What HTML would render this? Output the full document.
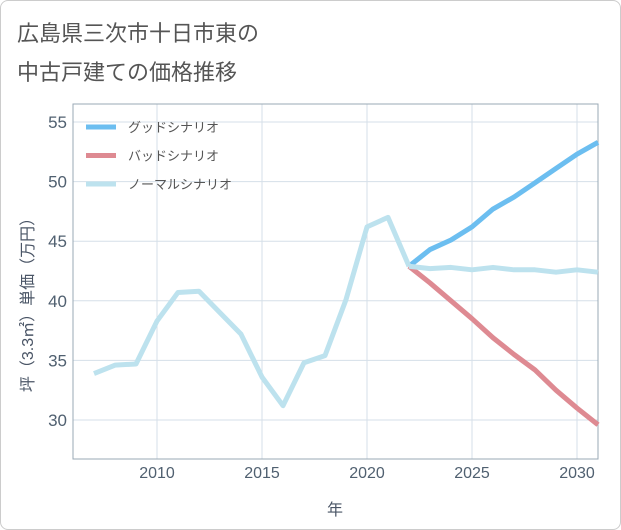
<!DOCTYPE html>
<html><head><meta charset="utf-8"><style>
body{margin:0;background:#fff;font-family:"Liberation Sans","Noto Sans CJK JP",sans-serif;}
#wrap{position:relative;width:619px;height:528px;border:1px solid #ccc;border-radius:8px;overflow:hidden;}
</style></head><body>
<div id="wrap">
<svg id="c" width="619" height="528" xmlns="http://www.w3.org/2000/svg">
<text x="16" y="40" font-size="22" fill="#555">広島県三次市十日市東の</text>
<text x="16" y="79" font-size="22" fill="#555">中古戸建ての価格推移</text>
<g id="grid"></g>
<g id="series"></g>
<g id="legend"></g>
<text x="334" y="514" font-size="16" fill="#4a5566" text-anchor="middle">年</text>
<text transform="translate(32,300) rotate(-90)" font-size="16" fill="#4a5566" text-anchor="middle">坪（3.3㎡）単価（万円）</text>
</svg>
</div>
<script>
const histYears=[2007,2008,2009,2010,2011,2012,2013,2014,2015,2016,2017,2018,2019,2020,2021,2022];
const histValues=[33.9,34.6,34.7,38.3,40.7,40.8,39.0,37.2,33.6,31.2,34.8,35.4,40.1,46.2,47.0,42.9];
const fcYears=[2022,2023,2024,2025,2026,2027,2028,2029,2030,2031];
const goodValues=[42.9,44.3,45.1,46.2,47.7,48.7,49.9,51.1,52.3,53.3];
const badValues=[42.9,41.5,40.0,38.5,36.9,35.5,34.2,32.5,31.0,29.6];
const normalValues=[42.9,42.7,42.8,42.6,42.8,42.6,42.6,42.4,42.6,42.4];
const xTicks=[2010,2015,2020,2025,2030];
const yTicks=[30,35,40,45,50,55];
const legendLabels=["グッドシナリオ","バッドシナリオ","ノーマルシナリオ"];
const L=72,R=597,T=103,B=458;
const x=v=>L+(v-2006)*(R-L)/25;
const y=v=>121+(55-v)*(419-121)/25;
const NS="http://www.w3.org/2000/svg";
function mk(tag,attrs,parent){const e=document.createElementNS(NS,tag);for(const k in attrs)e.setAttribute(k,attrs[k]);parent.appendChild(e);return e;}
const grid=document.getElementById('grid');
for(const t of xTicks){
 const l=mk('line',{x1:x(t),x2:x(t),y1:T,y2:B,stroke:'#d5dfe8','stroke-width':1},grid);
 
 
 const tx=mk('text',{x:x(t),y:B+19,'font-size':16,fill:'#506070','text-anchor':'middle'},grid);
 tx.textContent=t;
 
 
}
for(const t of yTicks){
 const l=mk('line',{x1:L,x2:R,y1:y(t),y2:y(t),stroke:'#d5dfe8','stroke-width':1},grid);
 
 
 const tx=mk('text',{x:L-6,y:y(t)+6,'font-size':17,fill:'#506070','text-anchor':'end'},grid);
 tx.textContent=t;
 
 
}
const fr=mk('rect',{x:L,y:T,width:R-L,height:B-T,fill:'none',stroke:'#9aa8b5','stroke-width':1},grid);


const ser=document.getElementById('series');
function line(xs,vs,color,name){
 const p=mk('polyline',{points:xs.map((d,i)=>x(d)+','+y(vs[i])).join(' '),fill:'none',stroke:color,'stroke-width':5,'stroke-linejoin':'round'},ser);
 
 
}
line(fcYears,goodValues,'#6cbef0','good-scenario-line');
line(fcYears,badValues,'#de8a92','bad-scenario-line');
line(histYears,histValues,'#bde2ee','historical-line');
line(fcYears,normalValues,'#bde2ee','normal-scenario-line');
const colors=['#6cbef0','#de8a92','#bde2ee'];
const lg=document.getElementById('legend');
legendLabels.forEach((s,i)=>{
 const yy=126+i*28.5;
 const l=mk('line',{x1:85,x2:115,y1:yy,y2:yy,stroke:colors[i],'stroke-width':5},lg);
 
 
 const t=mk('text',{x:127,y:yy+5,'font-size':13,fill:'#555'},lg);
 t.textContent=s;
 
 
});
</script>
</body></html>
